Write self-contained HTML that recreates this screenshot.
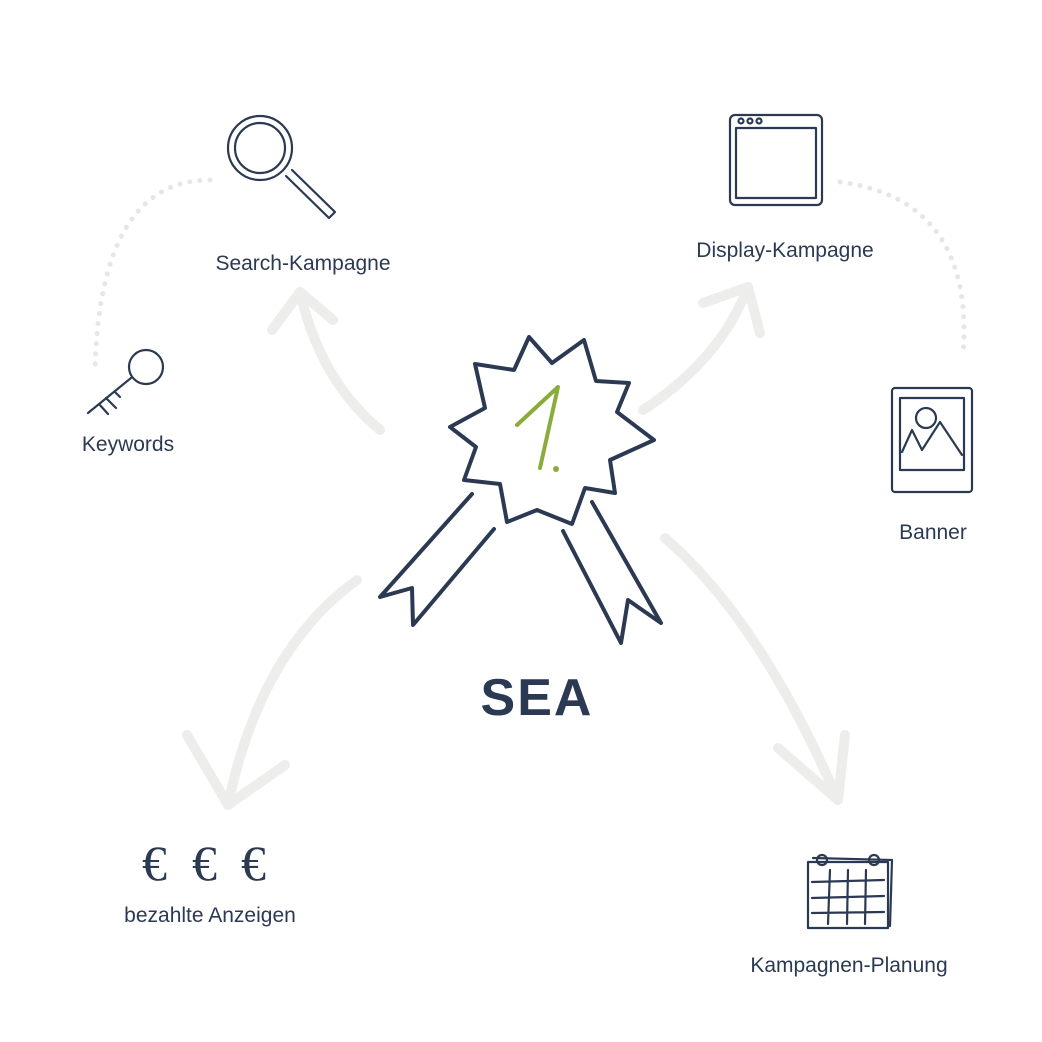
<!DOCTYPE html>
<html><head><meta charset="utf-8"><style>
html,body{margin:0;padding:0;background:#fff;}
svg{display:block}
text{font-family:"Liberation Sans",sans-serif;fill:#2b3a52;}
</style></head><body>
<svg width="1042" height="1042" viewBox="0 0 1042 1042" xmlns="http://www.w3.org/2000/svg">
<g fill="none" stroke="#ededeb" stroke-width="10" stroke-linecap="round" stroke-linejoin="round">
<path d="M380 430 Q320 380 300 292"/><path d="M272 330 L300 292 L333 320"/>
<path d="M643 410 Q720 360 748 287"/><path d="M703 303 L748 287 L760 333"/>
<path d="M357 580 Q260 650 228 805"/><path d="M187 735 L228 805 L285 765"/>
<path d="M665 538 Q760 620 838 800"/><path d="M778 748 L838 800 L845 735"/>
</g>
<g fill="none" stroke="#e6e6e4" stroke-width="5" stroke-linecap="round" stroke-dasharray="0.1 10">
<path d="M210 180 Q100 180 95 370"/>
<path d="M840 182 Q975 200 963 355"/>
</g>
<g fill="none" stroke="#2b3a52" stroke-width="4" stroke-linecap="round" stroke-linejoin="round">
<path d="M529 337 L552 363 L584 340 L596 381 L629 383 L617 412 L654 440 L610 460 L615 493 L585 488 L572 524 L537 510 L507 522 L500 484 L464 480 L476 447 L450 427 L485 408 L475 364 L514 370 Z"/>
<path d="M472 494 L380 597 L412 588 L413 625 L494 529"/>
<path d="M563 531 L621 643 L628 600 L661 623 L592 502"/>
</g>
<path d="M517 425 L558 387 L540 468" fill="none" stroke="#8aac3a" stroke-width="4" stroke-linecap="round" stroke-linejoin="round"/>
<circle cx="556" cy="469" r="3" fill="#8aac3a"/>
<g fill="none" stroke="#2b3a52" stroke-width="2.2" stroke-linecap="round" stroke-linejoin="round">
<circle cx="260" cy="148" r="32"/><circle cx="260" cy="148" r="25"/>
<path d="M286 176 L329 218 L335 212 L292 170"/>
<rect x="730" y="115" width="92" height="90" rx="5"/>
<rect x="736" y="128" width="80" height="70"/>
<circle cx="741" cy="121" r="2.5"/><circle cx="750" cy="121" r="2.5"/><circle cx="759" cy="121" r="2.5"/>
<circle cx="146" cy="367" r="17"/>
<path d="M131 378 L88 413 M99 404 L108 414 M106 398 L116 408 M115 392 L120 397"/>
<rect x="892" y="388" width="80" height="104" rx="3"/>
<rect x="900" y="398" width="64" height="72"/>
<circle cx="926" cy="418" r="10"/>
<path d="M902 452 L912 430 L922 450 L940 422 L962 455"/>
<rect x="808" y="862" width="80" height="66"/>
<path d="M813 858 L892 860 L890 926"/>
<circle cx="822" cy="860" r="5"/><circle cx="874" cy="860" r="5"/>
<path d="M812 882 L884 880 M812 898 L884 896 M812 913 L884 912 M830 870 L828 924 M848 870 L847 924 M866 870 L865 924"/>
</g>
<g font-size="50" style="fill:#2b3a52;font-family:'Liberation Serif',serif;font-weight:300">
<text x="142" y="880" style="font-family:'Liberation Serif',serif">€</text>
<text x="192" y="880" style="font-family:'Liberation Serif',serif">€</text>
<text x="241" y="880" style="font-family:'Liberation Serif',serif">€</text>
</g>
<g font-size="21" text-anchor="middle">
<text x="303" y="270">Search-Kampagne</text>
<text x="785" y="257">Display-Kampagne</text>
<text x="128" y="451">Keywords</text>
<text x="933" y="539">Banner</text>
<text x="210" y="922">bezahlte Anzeigen</text>
<text x="849" y="972">Kampagnen-Planung</text>
</g>
<text x="537" y="715" font-size="52" font-weight="bold" text-anchor="middle" letter-spacing="2">SEA</text>
</svg>
</body></html>
